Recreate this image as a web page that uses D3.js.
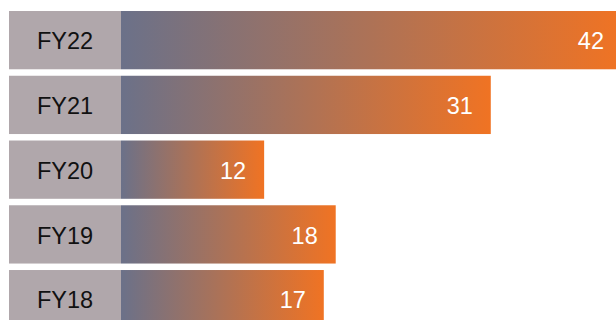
<!DOCTYPE html>
<html>
<head>
<meta charset="utf-8">
<script src="https://cdn.jsdelivr.net/npm/d3@7"></script>
<style>
  body { margin: 0; background: #fff; overflow: hidden; }
  text { font-family: "Liberation Sans", Arial, sans-serif; }
</style>
</head>
<body>
<div id="chart"></div>
<script>
// data
const years = ["FY22", "FY21", "FY20", "FY19", "FY18"];
const values = [42, 31, 12, 18, 17];

const w = 616;
const h = 320;
const labelLeft = 9;
const labelRight = 121;

const svg = d3.select("#chart")
  .append("svg")
  .attr("width", w)
  .attr("height", h);

// one gradient, stretched over each bar
const grad = svg.append("defs")
  .append("linearGradient")
  .attr("id", "barGrad")
  .attr("x1", "0").attr("y1", "0")
  .attr("x2", "1").attr("y2", "0");
grad.append("stop").attr("offset", "0%").attr("stop-color", "#6b7189");
grad.append("stop").attr("offset", "100%").attr("stop-color", "#f07323");

const yScale = d3.scaleBand()
  .domain(years)
  .range([11, 328.3])
  .paddingInner(0.1)
  .paddingOuter(0);

const xScale = d3.scaleLinear()
  .domain([0, 42])
  .range([labelRight, 622]);

const rows = svg.selectAll(".row")
  .data(years.map((d, i) => ({ year: d, value: values[i] })))
  .enter()
  .append("g")
  .attr("class", "row")
  .attr("transform", d => "translate(0," + yScale(d.year) + ")");

// grey label box
rows.append("rect")
  .attr("x", labelLeft)
  .attr("width", labelRight - labelLeft)
  .attr("height", yScale.bandwidth())
  .style("fill", "#b0a7ab");

rows.append("text")
  .attr("x", (labelLeft + labelRight) / 2)
  .attr("y", yScale.bandwidth() / 2 + 1)
  .attr("dy", ".35em")
  .style("text-anchor", "middle")
  .style("font-size", "23.5px")
  .style("fill", "#111")
  .text(d => d.year);

// gradient bar
rows.append("rect")
  .attr("x", xScale(0))
  .attr("width", d => xScale(d.value) - xScale(0))
  .attr("height", yScale.bandwidth())
  .style("fill", "url(#barGrad)");

rows.append("text")
  .attr("x", d => xScale(d.value) - 18)
  .attr("y", yScale.bandwidth() / 2 + 1)
  .attr("dy", ".35em")
  .style("text-anchor", "end")
  .style("font-size", "23.5px")
  .style("fill", "#fff")
  .text(d => d.value);
</script>
</body>
</html>
